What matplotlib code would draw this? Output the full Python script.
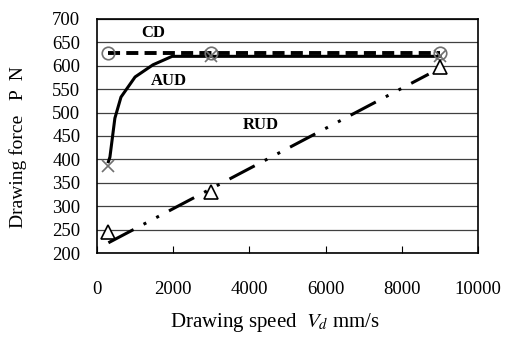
import matplotlib.pyplot as plt

plt.rcParams['font.family'] = ['Liberation Serif', 'DejaVu Serif']

# measured points
speed = [300, 3000, 9000]
cd_force = [628, 628, 628]
aud_force = [385, 620, 620]
rud_force = [245, 330, 598]

# fitted curves
aud_x = [300, 340, 470, 630, 1000, 1470, 1970, 9000]
aud_y = [395, 405, 488, 533, 576, 602, 620, 620]
cd_x = [300, 9000]
cd_y = [628, 628]
rud_x = [300, 8700]
rud_y = [222, 582]

fig = plt.figure(figsize=(5.05, 3.37), dpi=100)
ax = fig.add_axes([0.192, 0.249, 0.755, 0.695])

ax.plot(cd_x, cd_y, color='black', lw=2.8, dashes=(3.1, 1.6))
ax.plot(aud_x, aud_y, color='black', lw=2.2)
ax.plot(rud_x, rud_y, color='black', lw=2.2, dashes=(9.3, 3.7, 1, 3.7, 1, 3.7))

ax.plot(speed, cd_force, 'o', ms=9, mfc='none', mec='#707070', mew=1.2)
ax.plot(speed, aud_force, 'x', ms=9, color='#707070', mew=1.2)
ax.plot(speed, rud_force, '^', ms=10, mfc='white', mec='black', mew=1.2)

ax.text(1470, 670, 'CD', fontsize=12, fontweight='bold', ha='center', va='center')
ax.text(1890, 568, 'AUD', fontsize=12, fontweight='bold', ha='center', va='center')
ax.text(4300, 473, 'RUD', fontsize=12, fontweight='bold', ha='center', va='center')

ax.set_xlim(0, 10000)
ax.set_ylim(200, 700)
ax.set_xticks(range(0, 10001, 2000))
ax.set_yticks(range(200, 701, 50))
ax.yaxis.grid(True, color='#404040', lw=0.9)
ax.tick_params(axis='x', direction='in', length=5, pad=20, labelsize=13.5)
ax.tick_params(axis='y', length=0, pad=12, labelsize=13.5)
for s in ax.spines.values():
    s.set_linewidth(1.2)

fig.text(0.036, 0.564, 'Drawing force   P  N', rotation=90, fontsize=14, ha='center', va='center')
fig.text(0.545, 0.042, r'Drawing speed  $V_d$ mm/s', fontsize=15, ha='center', va='center',
         math_fontfamily='stix')

fig.savefig('out.png', dpi=100)
